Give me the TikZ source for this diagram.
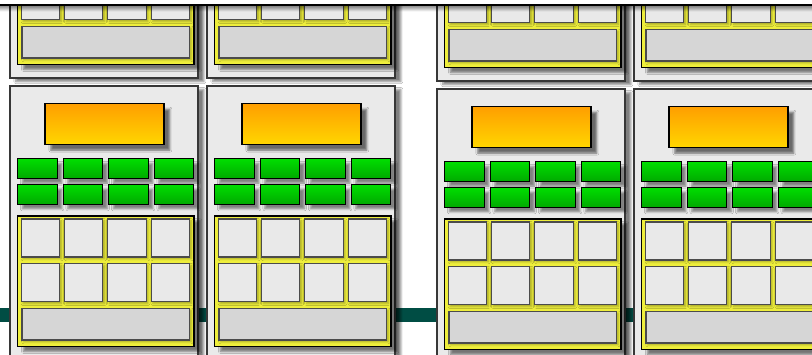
\documentclass[tikz,border=0pt]{standalone}
\usepackage{tikz}
\usetikzlibrary{shadows.blur}
\definecolor{smgray}{RGB}{234,234,234}
\definecolor{edgegray}{RGB}{55,55,55}
\definecolor{cellgray}{RGB}{233,233,233}
\definecolor{bargray}{RGB}{214,214,214}
\definecolor{busteal}{RGB}{0,77,68}
\definecolor{dispatchtop}{RGB}{255,158,0}
\definecolor{dispatchbot}{RGB}{255,214,0}
\definecolor{coretop}{RGB}{0,222,0}
\definecolor{corebot}{RGB}{0,170,0}
\definecolor{cacheyellow}{RGB}{238,238,60}

\tikzset{
  smbox/.style={fill=smgray,draw=edgegray,line width=1pt,
    blur shadow={shadow xshift=5pt,shadow yshift=-3pt,shadow blur steps=8,shadow opacity=50}},
  dispatch/.style={top color=dispatchtop,bottom color=dispatchbot,draw=black,line width=1pt,
    blur shadow={shadow xshift=5pt,shadow yshift=-5pt,shadow opacity=55}},
  unitbox/.style={top color=coretop,bottom color=corebot,draw=black,line width=1pt,
    blur shadow={shadow xshift=4pt,shadow yshift=-4pt,shadow opacity=45}},
  cachebox/.style={fill=cacheyellow,draw=black,line width=1.2pt,
    blur shadow={shadow xshift=5pt,shadow yshift=-4pt,shadow opacity=50}},
  cellbox/.style={fill=cellgray,draw=edgegray!90,line width=1pt,
    blur shadow={shadow xshift=1.5pt,shadow yshift=-1.5pt,shadow opacity=30}},
  barbox/.style={fill=bargray,draw=edgegray!90,line width=1pt,
    blur shadow={shadow xshift=1.5pt,shadow yshift=-1.5pt,shadow opacity=30}}
}

% one streaming multiprocessor, top-left corner at (#1,#2)
\newcommand{\smblock}[2]{%
  \begin{scope}[shift={(#1,#2)}]
    \draw[smbox] (0,0) rectangle (188,274);
    \draw[dispatch] (35,17.3) rectangle (154,58.3);
    \foreach \row in {0,1}
      \foreach \col in {0,...,3}
        \draw[unitbox] ({7.7+45.5*\col},{72.7+25.7*\row}) rectangle +(39.5,19.7);
    \draw[cachebox] (7.7,130) rectangle (184,260.7);
    \foreach \row in {0,1}
      \foreach \col in {0,...,3}
        \draw[cellbox] ({11.3+43.3*\col},{133+44.7*\row}) rectangle +(38.3,38);
    \draw[barbox] (12,222.3) rectangle (179.3,254);
  \end{scope}}

\begin{document}
\begin{tikzpicture}[x=0.03cm,y=-0.03cm]
  \useasboundingbox (0,0) rectangle (812,354);
  \clip (0,0) rectangle (812,354);
  \fill[white] (0,0) rectangle (812,354);
  % interconnect behind the blocks
  \fill[busteal] (0,308.3) rectangle (812,321.7);
  % left pair
  \foreach \ox in {10,207} {
    \smblock{\ox}{-196}
    \smblock{\ox}{86}
  }
  % right pair
  \foreach \ox in {437,634} {
    \smblock{\ox}{-193}
    \smblock{\ox}{89}
  }
  % cut edge at the top
  \fill[white] (0,0) rectangle (812,4.3);
  \foreach \i in {1,...,6}
    \draw[black,opacity={0.3-0.045*\i},line width=0.9pt] (0,{5+\i}) -- (812,{5+\i});
  \draw[black,line width=1.3pt] (0,5) -- (812,5);
\end{tikzpicture}
\end{document}
